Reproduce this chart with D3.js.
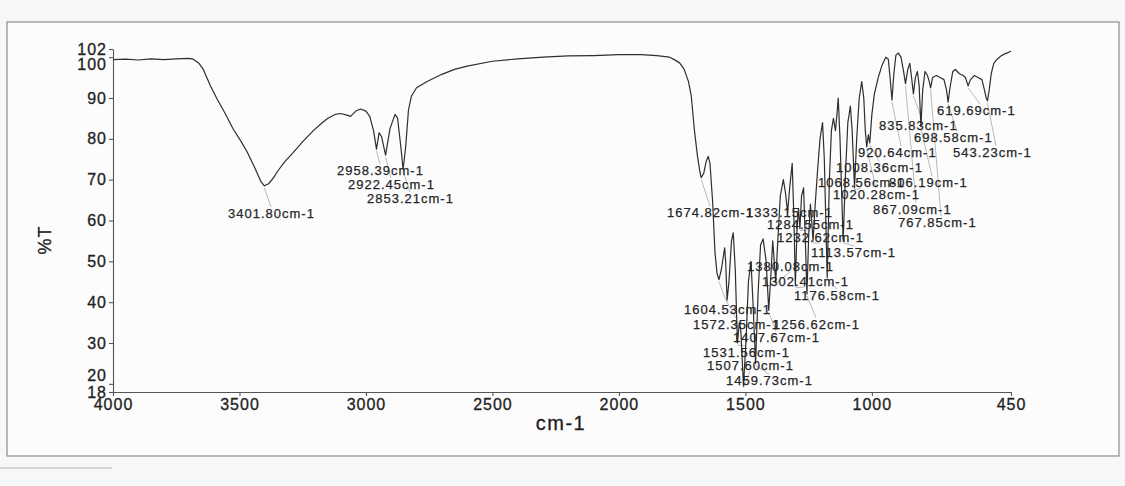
<!DOCTYPE html>
<html>
<head>
<meta charset="utf-8">
<script src="https://cdn.jsdelivr.net/npm/d3@7"></script>
<style>
  body { margin: 0; background: #f6f7f9; }
  svg { display: block; font-family: Arial, "Liberation Sans", sans-serif; }
</style>
</head>
<body>
<div id="chart"></div>
<script>
// spectrum: wavenumber (cm-1) and %T
const wavenumbers = [4000,3950,3900,3850,3800,3750,3700,3683,3660,3643,3615,3588,3555,3525,3495,3469,3440,3415,3401.8,3385,3365,3350,3320,3287,3250,3208,3175,3152,3120,3101,3075,3061,3040,3021,3000,2985,2970,2958.39,2948,2938,2922.45,2905,2885,2875,2862,2853.21,2843,2832,2820,2800,2760,2700,2650,2600,2500,2400,2300,2200,2100,2000,1912,1850,1800,1781,1760,1742,1725,1714,1702,1690,1680,1674.82,1665,1655,1647,1640,1630,1620,1612,1604.53,1595,1582,1578,1572.35,1565,1555,1548,1540,1531.56,1524,1518,1507.6,1498,1488,1478,1470,1459.73,1450,1440,1430,1418,1407.67,1398,1392,1386,1380.08,1372,1362,1350,1342,1333.15,1325,1315,1308,1302.41,1296,1290,1284.55,1278,1270,1263,1256.62,1250,1243,1238,1232.62,1225,1215,1205,1195,1188,1176.58,1168,1160,1152,1144,1138,1133,1126,1113.57,1104,1095,1085,1078,1068.56,1060,1050,1040,1032,1026,1020.28,1014,1008.36,1000,990,975,960,945,935,928,920.64,913,905,895,885,876,867.09,858,850,843,835.83,828,820,813,806.19,799,790,780,773,767.85,760,745,730,715,705,698.58,690,680,670,655,640,630,619.69,610,595,580,565,555,548,543.23,536,528,518,505,490,475,462,450];
const transmittance = [99.4,99.5,99.3,99.6,99.4,99.6,99.7,99.5,98.5,97,93,89.7,86,82.4,79.5,76.7,73,69.5,68.5,69,70.5,72,74.5,76.7,79.3,82,83.8,85,86,86.2,85.8,85.5,86.8,87.3,86.8,85.5,82,77.5,81.5,80.5,76,82.5,86,85,78,72.5,78,87,90.5,92.5,94,95.8,97,97.8,99,99.6,100,100.3,100.4,100.6,100.6,100.4,100,99.4,98.6,97,94,90.5,82.4,76,72,70.5,71.5,74.5,75.7,74,65,52,47,45.5,48,53.3,50,40.5,45,55,57,48,30,35,33,19.5,30,45,50,40,25,42,54,55.5,50,38,48,55,50,45,55,66,70,67,62,68,74,60,44,58,63,58,66,68,55,42,56,64,60,55,63,72,80,84,75,46,70,82,85,82,86,90,80,55,72,84,88,82,68,80,90,94,90,82,78,81,79,86,91,95,98,100,99.5,95,89.5,96,100.5,101,100,97,93.5,97,98.5,95,91,95,96.5,93,83,92,96.5,95.5,94,92.5,95,95.5,95,94.5,92,89,93,96.5,97,96,95.5,95,93,94.5,95.5,95,94.5,92,90,89.3,92,96,98.5,99.5,100.3,100.8,101.1,101.5];

// annotated bands
const peakMarks = [3401.80,2958.39,2922.45,2853.21,1674.82,1333.15,1284.55,1232.62,1113.57,1380.08,1302.41,1176.58,1604.53,1572.35,1256.62,1407.67,1531.56,1507.60,1459.73,619.69,835.83,698.58,920.64,543.23,1008.36,1068.56,806.19,1020.28,867.09,767.85];

const xTickValues = [4000,3500,3000,2500,2000,1500,1000,450];
const yTickValues = [18,20,30,40,50,60,70,80,90,100,102];

// where the software dropped each band label (left x, middle y)
const labelSpots = [[228,213],[337,170],[348,184],[367,198],[667,212],[746,212],[767,224],[777,237],[811,252],[747,266],[762,281],[794,295],[684,309],[693,324],[773,324],[733,337],[703,352],[707,365],[726,380],[937,110],[879,125],[914,137],[858,152],[953,152],[836,167],[818,182],[889,182],[833,194],[873,209],[898,222]];

const w = 1125, h = 486;

const svg = d3.select("#chart").append("svg")
  .attr("width", w)
  .attr("height", h);

svg.append("rect").attr("width", w).attr("height", h).attr("fill", "#f6f7f9");
svg.append("rect")
  .attr("x", 7).attr("y", 22).attr("width", 1112).attr("height", 434)
  .attr("fill", "#fcfcfd").attr("stroke", "#8c8c8c").attr("stroke-width", 1.2);
svg.append("line")
  .attr("x1", 0).attr("x2", 112).attr("y1", 468).attr("y2", 468)
  .attr("stroke", "#b5b5b5");

const xScale = d3.scaleLinear().domain([4000, 450]).range([113, 1011]);
const yScale = d3.scaleLinear().domain([18, 102]).range([392, 49]);

const points = wavenumbers.map((d, i) => [d, transmittance[i]]);
const tAt = d3.scaleLinear().domain(wavenumbers).range(transmittance);

// axes
const xAxis = d3.axisBottom(xScale).tickValues(xTickValues).tickSize(4).tickSizeOuter(0).tickFormat(d3.format("d"));
const gx = svg.append("g").attr("transform", "translate(0,392)").call(xAxis);

const yAxis = d3.axisLeft(yScale).tickValues(yTickValues).tickSize(4).tickSizeOuter(0);
const gy = svg.append("g").attr("transform", "translate(113,0)").call(yAxis);

[gx, gy].forEach(g => {
  g.selectAll("path, line").attr("stroke", "#555").attr("stroke-width", 1.1);
  g.selectAll("text").attr("fill", "#222")
    .attr("stroke", "#222").attr("stroke-width", 0.3)
    .style("font-size", "16px").style("letter-spacing", "1px");
});
gy.selectAll("text").attr("x", -6)
  .attr("dy", d => d === 100 ? "0.8em" : d === 20 ? "-0.2em" : "0.32em");

svg.append("text")
  .attr("x", 561).attr("y", 430)
  .attr("text-anchor", "middle")
  .attr("fill", "#1c1c1c").attr("stroke", "#1c1c1c").attr("stroke-width", 0.3)
  .style("font-size", "20px").style("letter-spacing", "1.5px")
  .text("cm-1");

svg.append("text")
  .attr("transform", "translate(51,240) rotate(-90)")
  .attr("text-anchor", "middle")
  .attr("fill", "#1c1c1c").attr("stroke", "#1c1c1c").attr("stroke-width", 0.3)
  .style("font-size", "18px").style("letter-spacing", "1px")
  .text("%T");

// leader lines from band to label
svg.selectAll(".leader")
  .data(peakMarks)
  .enter()
  .append("line")
  .attr("class", "leader")
  .attr("x1", d => xScale(d))
  .attr("y1", d => yScale(tAt(d)) + 2)
  .attr("x2", (d, i) => labelSpots[i][0] + 43)
  .attr("y2", (d, i) => {
    let top = labelSpots[i][1] - 6;
    return yScale(tAt(d)) > top ? labelSpots[i][1] + 6 : top;
  })
  .attr("stroke", "#a8a8a8")
  .attr("stroke-width", 0.8);

// spectrum
svg.append("path")
  .datum(points)
  .attr("fill", "none")
  .attr("stroke", "#2e2e2e")
  .attr("stroke-width", 1.2)
  .attr("stroke-linejoin", "round")
  .attr("d", d3.line().x(d => xScale(d[0])).y(d => yScale(d[1])));

svg.selectAll(".peak")
  .data(peakMarks)
  .enter()
  .append("text")
  .attr("class", "peak")
  .attr("x", (d, i) => labelSpots[i][0])
  .attr("y", (d, i) => labelSpots[i][1])
  .attr("dominant-baseline", "central")
  .attr("fill", "#262626")
  .attr("stroke", "#262626")
  .attr("stroke-width", 0.25)
  .style("font-size", "13px")
  .style("letter-spacing", "1px")
  .text(d => d.toFixed(2) + "cm-1");
</script>
</body>
</html>
